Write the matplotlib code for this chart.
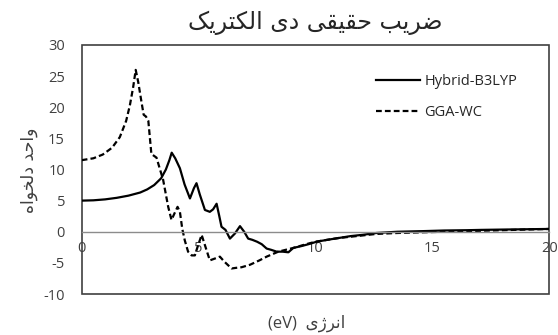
import matplotlib
matplotlib.use('Agg')
import matplotlib.pyplot as plt
from matplotlib.patches import Rectangle

plt.rcParams['font.family'] = ['Open Sans', 'DejaVu Sans']
plt.rcParams['axes.unicode_minus'] = False

# Persian labels, written in Arabic presentation forms (visual order),
# since matplotlib does no shaping / bidi on its own
title_txt = ('\uFB8F\uFBFE\uFEAE\uFE98\uFB91\uFEDF\uFE8D '
             '\uFBFC\uFEA9 '
             '\uFBFD\uFED8\uFBFF\uFED8\uFEA3 '
             '\uFE90\uFBFE\uFEAE\uFEBF')
ylabel_txt = '\uFEE9\uFE8D\uFEEE\uFEA8\uFEDF\uFEA9 \uFEAA\uFEA3\uFE8D\uFEED'
xlabel_txt = '(eV)  \uFBFC\uFB8A\uFEAE\uFEE7\uFE8D'

# === DATA ===
hybrid_x = [0, 0.5, 1.0, 1.5, 2.0, 2.5, 2.8, 3.1, 3.4, 3.6,
            3.75, 3.85, 4.0, 4.2, 4.4, 4.63, 4.8, 4.91, 5.05, 5.27,
            5.48, 5.62, 5.77, 5.88, 5.98, 6.15, 6.34, 6.55, 6.77, 6.95,
            7.12, 7.3, 7.5, 7.7, 7.91, 8.1, 8.34, 8.6, 8.84, 9.05,
            9.4, 9.7, 10.05, 10.5, 11.0, 11.5, 12.0, 12.6, 13.5, 14.6,
            15.5, 16.5, 17.1, 18.0, 19.0, 20.0]
hybrid_y = [5.0, 5.05, 5.2, 5.45, 5.8, 6.3, 6.8, 7.5, 8.6, 10.0,
            11.5, 12.7, 11.8, 10.2, 7.6, 5.35, 7.0, 7.8, 6.0, 3.5,
            3.2, 3.6, 4.5, 2.6, 0.8, 0.3, -1.1, -0.3, 0.9, 0.0,
            -1.1, -1.3, -1.6, -2.0, -2.7, -2.9, -3.2, -3.2, -3.3, -2.6,
            -2.3, -2.0, -1.6, -1.3, -1.0, -0.7, -0.5, -0.2, 0.0, 0.1,
            0.2, 0.25, 0.3, 0.35, 0.4, 0.45]

gga_x = [0, 0.5, 0.9, 1.3, 1.63, 1.9, 2.06, 2.2, 2.31, 2.42,
         2.55, 2.65, 2.75, 2.85, 2.98, 3.2, 3.35, 3.48, 3.7, 3.84,
         3.95, 4.1, 4.2, 4.3, 4.41, 4.55, 4.7, 4.84, 4.95, 5.13,
         5.3, 5.48, 5.7, 5.91, 6.1, 6.41, 6.6, 6.84, 7.2, 7.6,
         7.91, 8.41, 9.05, 9.6, 10.0, 10.5, 11.0, 11.5, 12.0, 12.6,
         13.5, 14.5, 15.5, 16.5, 17.5, 18.5, 19.5, 20.0]
gga_y = [11.5, 11.8, 12.4, 13.5, 15.2, 17.8, 20.3, 23.2, 26.0, 24.0,
         21.0, 18.8, 18.5, 17.8, 12.5, 11.9, 10.0, 8.4, 4.0, 1.9,
         2.8, 4.0, 3.2, 0.5, -1.4, -3.2, -3.8, -3.8, -2.5, -0.5,
         -2.5, -4.6, -4.3, -4.0, -4.8, -5.9, -5.8, -5.7, -5.3, -4.6,
         -4.0, -3.2, -2.6, -2.0, -1.6, -1.3, -1.0, -0.8, -0.6, -0.35,
         -0.2, -0.1, 0.0, 0.1, 0.2, 0.3, 0.4, 0.45]

x_ticks = [0, 5, 10, 15, 20]
y_ticks = [-10, -5, 0, 5, 10, 15, 20, 25, 30]

# === PLOT ===
fig = plt.figure(figsize=(5.58, 3.35), dpi=100)
ax = fig.add_axes([81.7 / 558, 1 - 294 / 335, (549.3 - 81.7) / 558, (294 - 45) / 335])

ax.plot(hybrid_x, hybrid_y, color='black', linewidth=1.6, label='Hybrid-B3LYP')
ax.plot(gga_x, gga_y, color='black', linewidth=1.6, linestyle=(0, (2.6, 1.4)),
        label='GGA-WC')

ax.set_xlim(0, 20)
ax.set_ylim(-10, 30)
ax.set_xticks(x_ticks)
ax.set_yticks(y_ticks)

# Excel-style: horizontal axis crosses at 0, labels sit by it
for s in ['top', 'right', 'left']:
    ax.spines[s].set_visible(False)
ax.spines['bottom'].set_position(('data', 0))
ax.spines['bottom'].set_color('#8c8c8c')
ax.spines['bottom'].set_linewidth(1.0)
ax.add_patch(Rectangle((0, 0), 1, 1, transform=ax.transAxes, fill=False,
                       edgecolor='#404040', linewidth=1.2, clip_on=False))

ax.tick_params(axis='x', length=0, pad=7, labelsize=10.5, labelcolor='#404040')
ax.tick_params(axis='y', length=0, pad=12, labelsize=10.5, labelcolor='#404040')

ax.legend(loc='upper left', bbox_to_anchor=(376 / 558, 1 - 74 / 335),
          bbox_transform=fig.transFigure, frameon=False, fontsize=10.5,
          handlelength=3.0, handletextpad=0.3, borderpad=0, borderaxespad=0,
          labelspacing=1.1, labelcolor='#262626')

fig.text(315 / 558, 1 - 23 / 335, title_txt, ha='center', va='center',
         fontsize=17, family='DejaVu Sans', color='#262626')
fig.text(29 / 558, 1 - 170 / 335, ylabel_txt, ha='center', va='center',
         rotation=90, fontsize=12.5, family='DejaVu Sans', color='#404040')
fig.text(307 / 558, 1 - 323 / 335, xlabel_txt, ha='center', va='center',
         fontsize=12, color='#404040')

plt.savefig('out.png', dpi=100)
